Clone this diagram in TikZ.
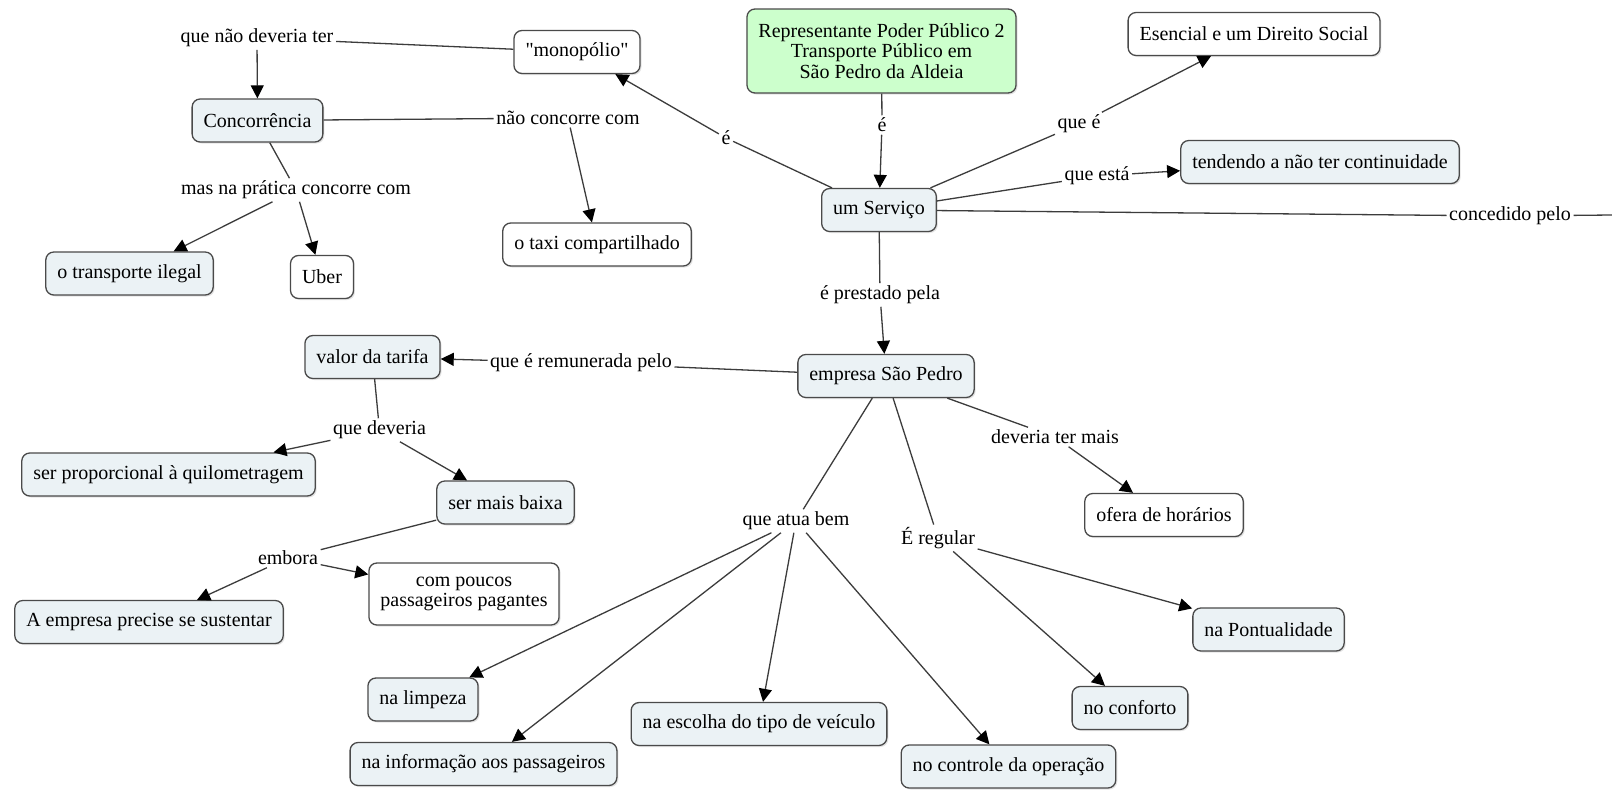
\documentclass[tikz,border=0pt]{standalone}
\usepackage{fontspec}
\setmainfont{Liberation Serif}[Ligatures=TeXOff]
\usetikzlibrary{arrows.meta,shadows}
\definecolor{conceptfill}{HTML}{EBF2F5}
\definecolor{rootfill}{HTML}{CCFFCC}
\definecolor{edgegray}{HTML}{3C3C3C}
\definecolor{boxgray}{HTML}{4A4A4A}
\begin{document}
\begin{tikzpicture}[x=1pt,y=-1pt,
  txt/.style={font=\fontsize{20}{20.5}\selectfont},
  concept/.style={txt, draw=boxgray, line width=1.3pt, rounded corners=8pt,
    fill=conceptfill, inner xsep=11.5pt, inner ysep=0pt, minimum height=43pt,
    align=center,
    drop shadow={shadow xshift=1.5pt, shadow yshift=-1.5pt, opacity=0.22, fill=gray}},
  plainbox/.style={concept, fill=white},
  rootbox/.style={concept, fill=rootfill},
  link/.style={txt, inner sep=2.5pt},
  conn/.style={draw=edgegray, line width=1.3pt},
  arr/.style={conn, -{Triangle[length=13pt,width=13pt,color=black]}},
]
% canvas
\fill[white] (0,0) rectangle (1612,790);
\useasboundingbox (0,0) rectangle (1612,790);

% concepts
\node[rootbox, minimum height=84pt] (root) at (881.5,51)
  {Representante Poder Público 2\\Transporte Público em\\São Pedro da Aldeia};
\node[plainbox] (mono) at (577,52) {"monopólio"};
\node[plainbox] (esen) at (1254,34) {Esencial e um Direito Social};
\node[concept] (serv) at (879,210) {um Serviço};
\node[concept] (tend) at (1320,162) {tendendo a não ter continuidade};
\node[concept] (conc) at (257.5,120.5) {Concorrência};
\node[plainbox] (taxi) at (597,244.5) {o taxi compartilhado};
\node[concept] (ilegal) at (129.5,273.5) {o transporte ilegal};
\node[plainbox] (uber) at (322,277) {Uber};
\node[concept] (emp) at (886,376) {empresa São Pedro};
\node[concept] (valor) at (372.5,357) {valor da tarifa};
\node[concept] (prop) at (168.5,474.5) {ser proporcional à quilometragem};
\node[concept] (baixa) at (505.5,502.5) {ser mais baixa};
\node[plainbox, minimum height=62pt] (poucos) at (464,594) {com poucos\\passageiros pagantes};
\node[concept] (aemp) at (149,622) {A empresa precise se sustentar};
\node[plainbox] (ofera) at (1164,515) {ofera de horários};
\node[concept] (pont) at (1268.5,629.5) {na Pontualidade};
\node[concept] (conf) at (1130,708) {no conforto};
\node[concept] (limp) at (423,699.5) {na limpeza};
\node[concept] (info) at (483.5,764) {na informação aos passageiros};
\node[concept] (escolha) at (759,724) {na escolha do tipo de veículo};
\node[concept] (controle) at (1008.5,766.5) {no controle da operação};

% linking phrases
\node[link] (lnaodev) at (257,38) {que não deveria ter};
\node[link] (lnaoconc) at (568,118) {não concorre com};
\node[link] (lmas) at (296,190) {mas na prática concorre com};
\node[link] (le1) at (726,138) {é};
\node[link] (le2) at (882,125) {é};
\node[link] (lquee) at (1079,124) {que é};
\node[link] (lesta) at (1097,176) {que está};
\node[link] (lconc) at (1510,216) {concedido pelo};
\node[link] (lprest) at (880,295) {é prestado pela};
\node[link] (lremu) at (581,363) {que é remunerada pelo};
\node[link] (ldev) at (379.5,430) {que deveria};
\node[link] (lemb) at (288,558) {embora};
\node[link] (latua) at (796,521) {que atua bem};
\node[link] (lreg) at (938,538) {É regular};
\node[link] (ldevmais) at (1055,437) {deveria ter mais};
\coordinate (offright) at (1612,215);

% connectors
\draw[conn] (root) -- (le2);
\draw[arr] (le2) -- (serv);
\draw[conn] (serv) -- (le1);
\draw[arr] (le1) -- (mono);
\draw[conn] (serv) -- (lquee);
\draw[arr] (lquee) -- (esen);
\draw[conn] (serv) -- (lesta);
\draw[arr] (lesta) -- (tend);
\draw[conn] (serv) -- (lconc);
\draw[conn] (lconc) -- (offright);
\draw[conn] (serv) -- (lprest);
\draw[arr] (lprest) -- (emp);

\draw[conn] (mono) -- (lnaodev);
\draw[arr] (lnaodev) -- (conc);
\draw[conn] (conc) -- (lnaoconc);
\draw[arr] (lnaoconc) -- (taxi);
\draw[conn] (conc) -- (lmas);
\draw[arr] (lmas) -- (ilegal);
\draw[arr] (lmas) -- (uber);

\draw[conn] (emp) -- (lremu);
\draw[arr] (lremu) -- (valor);
\draw[conn] (valor) -- (ldev);
\draw[arr] (ldev) -- (prop);
\draw[arr] (ldev) -- (baixa);
\draw[conn] (baixa) -- (lemb);
\draw[arr] (lemb) -- (poucos);
\draw[arr] (lemb) -- (aemp);

\draw[conn] (emp) -- (latua);
\draw[arr] (latua) -- (limp);
\draw[arr] (latua) -- (info);
\draw[arr] (latua) -- (escolha);
\draw[arr] (latua) -- (controle);
\draw[conn] (emp) -- (lreg);
\draw[arr] (lreg) -- (pont);
\draw[arr] (lreg) -- (conf);
\draw[conn] (emp) -- (ldevmais);
\draw[arr] (ldevmais) -- (ofera);
\end{tikzpicture}
\end{document}
